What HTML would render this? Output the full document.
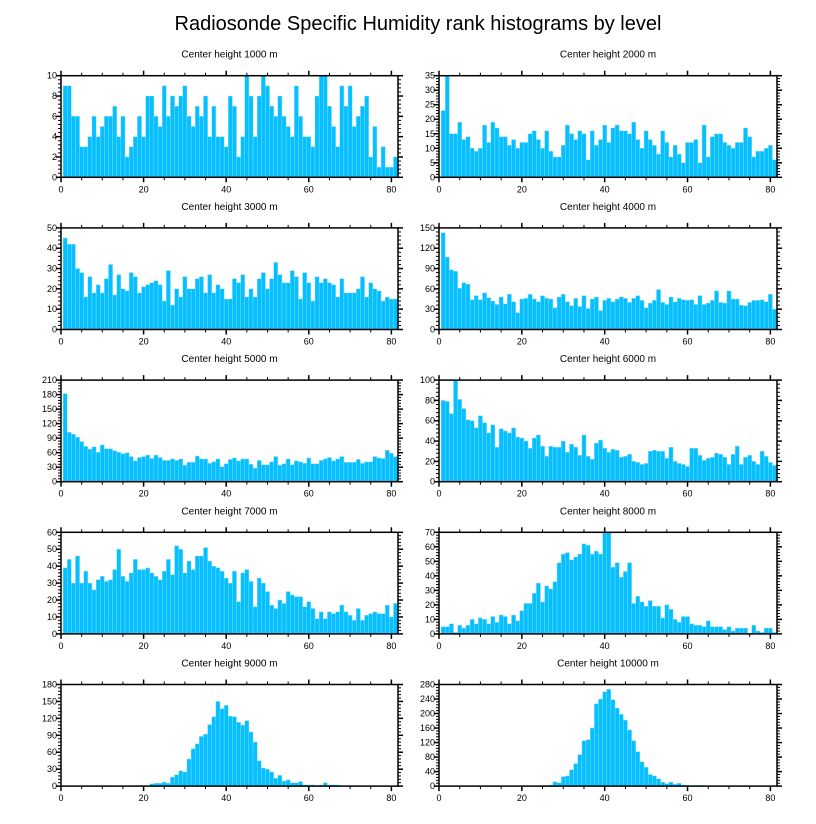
<!DOCTYPE html>
<html><head><meta charset="utf-8"><style>
body{margin:0;background:#fff;}
svg{display:block;font-family:"Liberation Sans",sans-serif;}
</style></head><body>
<svg id="chart" width="816" height="824" viewBox="0 0 816 824" xmlns="http://www.w3.org/2000/svg">
<text x="418" y="30" text-anchor="middle" font-size="20">Radiosonde Specific Humidity rank histograms by level</text>
</svg>
<script>
const levels = ["1000","2000","3000","4000","5000","6000","7000","8000","9000","10000"];
const yMaxes = [10,35,50,150,210,100,60,70,180,280];
const ySteps = [2,5,10,30,30,20,10,10,30,40];
const xTicks = [0,20,40,60,80];
const h1000 = [9,9,6,6,3,3,4,6,4,5,6,6,7,4,6,2,3,4,6,4,8,8,6,5,9,6,8,7,8,9,6,5,7,6,8,4,7,4,4,3,8,7,2,4,10,8,4,8,10,9,7,6,8,6,5,4,9,6,4,4,3,8,10,10,7,5,3,9,7,9,5,6,7,8,2,5,1,3,1,1,2];
const h2000 = [23,35,15,15,19,13,14,10,9,10,18,12,19,17,14,14,11,13,10,12,12,15,16,13,10,16,9,7,7,11,18,15,13,16,15,6,16,11,13,18,12,17,18,16,16,15,19,13,10,16,13,11,8,16,12,7,11,8,5,12,12,13,5,18,7,14,15,15,12,11,10,12,12,17,14,7,9,9,10,11,6];
const h3000 = [45,42,42,30,28,16,26,18,22,18,25,32,17,27,20,19,28,26,18,21,22,23,24,22,14,29,12,20,16,26,20,20,25,26,18,27,18,22,20,15,15,25,23,27,16,20,16,25,28,20,25,33,27,23,23,29,26,15,28,23,14,26,23,25,23,22,16,25,18,18,18,20,26,16,23,20,19,14,16,15,15];
const h4000 = [143,107,88,86,61,69,67,44,50,44,54,47,42,37,48,38,52,41,25,45,46,52,45,41,50,46,45,32,48,52,41,35,46,34,50,31,45,48,28,43,46,41,45,48,46,40,46,50,43,32,39,43,59,40,37,48,41,46,44,43,44,37,50,37,39,43,57,40,39,57,45,45,36,35,40,43,43,44,41,52,30];
const h5000 = [182,102,98,92,83,73,67,72,61,76,68,68,64,61,58,60,52,43,50,52,55,48,55,50,44,44,47,44,47,34,40,40,53,47,47,38,41,47,31,37,46,49,43,47,47,36,28,44,35,35,41,52,34,37,47,35,43,41,38,49,37,37,44,47,50,43,47,52,40,40,40,46,38,41,41,52,49,48,65,59,52];
const h6000 = [80,79,67,100,81,72,61,60,53,65,58,48,56,34,52,50,48,53,44,43,40,33,43,46,35,25,35,34,34,40,29,37,34,26,46,25,22,38,41,33,29,32,31,24,25,27,20,19,17,18,30,31,30,30,23,34,20,18,17,15,33,33,26,21,23,24,28,27,24,17,27,35,17,24,26,20,17,30,25,19,16];
const h7000 = [39,44,30,46,30,37,30,26,32,34,31,32,38,50,34,31,36,44,38,38,39,36,34,32,37,44,35,52,50,36,43,38,46,46,51,43,40,39,37,33,30,37,19,36,38,31,16,33,30,25,17,15,20,18,25,23,22,22,16,19,15,9,13,9,13,12,13,17,13,11,8,15,8,11,12,13,12,12,17,10,18];
const h8000 = [5,5,7,1,6,4,6,10,7,11,10,7,12,8,13,12,7,13,9,16,21,21,28,35,22,33,31,36,49,55,56,51,53,55,62,61,55,57,55,70,70,46,49,39,43,49,21,26,22,19,23,19,19,11,20,17,10,8,12,12,7,6,6,5,9,5,5,5,3,5,2,4,4,4,0,6,2,1,4,4,1];
const h9000 = [0,0,0,0,0,0,0,0,0,0,1,0,0,0,0,0,0,1,1,1,1,4,5,5,7,5,16,20,27,25,48,66,75,88,92,109,123,150,137,143,124,123,113,108,116,96,78,45,32,30,25,14,19,9,11,6,6,8,2,2,2,1,2,6,2,2,2,0,0,1,1,0,0,0,1,0,0,0,0,0,0];
const h10000 = [0,0,0,0,0,0,0,0,0,0,0,0,0,0,0,0,0,0,0,0,0,0,1,1,2,2,3,12,9,26,28,45,62,87,125,128,160,227,240,260,267,238,215,198,182,155,125,95,67,52,32,28,20,11,7,11,5,8,3,2,0,2,2,0,0,0,0,0,0,0,0,0,0,0,0,0,0,0,0,0,0];
const series = [h1000,h2000,h3000,h4000,h5000,h6000,h7000,h8000,h9000,h10000];

const svg = document.getElementById('chart');
const NS = 'http://www.w3.org/2000/svg';
const XMAX = 81.6;
function mk(tag, attrs, parent){
  const e = document.createElementNS(NS, tag);
  for (const k in attrs) e.setAttribute(k, attrs[k]);
  parent.appendChild(e);
  return e;
}
levels.forEach((lev, p) => {
  const col = p % 2, row = Math.floor(p / 2);
  const L = col ? 439 : 61, R = col ? 777 : 398;
  const T = 75.7 + row * 152.2, B = T + 101.6;
  const xs = v => L + (v / XMAX) * (R - L);
  const ys = v => B - (v / yMaxes[p]) * (B - T);
  const g = mk('g', {}, svg);
  
  
  const t = mk('text', {x: (L + R) / 2, y: T - 18, 'text-anchor': 'middle', 'font-size': 10}, g);
  t.textContent = 'Center height ' + lev + ' m';
  
  
  series[p].forEach((v, i) => {
    const x0 = xs(i + 0.5), x1 = xs(i + 1.5);
    const b = mk('rect', {x: x0, y: ys(v), width: x1 - x0, height: B - ys(v), fill: '#06bfff', stroke: '#8fe0ff', 'stroke-width': 0.4}, g);
    
    
  });
  for (let v = 0; v <= 80; v += 5) {
    const major = v % 20 === 0, len = major ? 5 : 3;
    mk('line', {x1: xs(v), x2: xs(v), y1: B, y2: B + len, stroke: '#000', 'stroke-width': major ? 1.5 : 1}, g);
    mk('line', {x1: xs(v), x2: xs(v), y1: T, y2: T - len, stroke: '#000', 'stroke-width': major ? 1.5 : 1}, g);
  }
  xTicks.forEach(v => {
    const tl = mk('text', {x: xs(v), y: B + 15, 'text-anchor': 'middle', 'font-size': 9}, g);
    tl.textContent = v;
    
    
  });
  const st = ySteps[p], mn = st / 5;
  for (let v = 0; v <= yMaxes[p] + 1e-9; v += mn) {
    const major = Math.abs(v / st - Math.round(v / st)) < 1e-6, len = major ? 5 : 3;
    mk('line', {x1: L, x2: L - len, y1: ys(v), y2: ys(v), stroke: '#000', 'stroke-width': major ? 1.5 : 1}, g);
    mk('line', {x1: R, x2: R + len, y1: ys(v), y2: ys(v), stroke: '#000', 'stroke-width': major ? 1.5 : 1}, g);
    if (major) {
      const yl = mk('text', {x: L - 4, y: ys(v) + 3, 'text-anchor': 'end', 'font-size': 9}, g);
      yl.textContent = Math.round(v);
      
      
    }
  }
  const fr = mk('rect', {x: L, y: T, width: R - L, height: B - T, fill: 'none', stroke: '#000', 'stroke-width': 1.5}, g);
  
  
});
</script>
</body></html>
